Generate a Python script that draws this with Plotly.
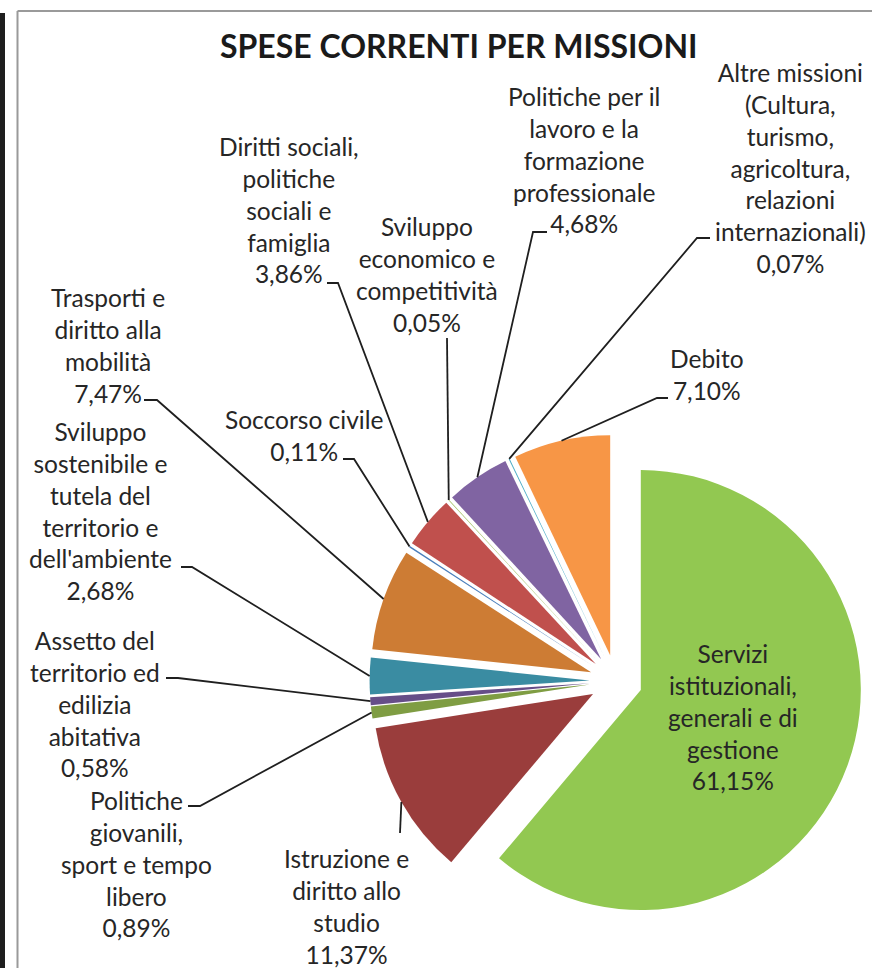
import math
import plotly.graph_objects as go

W, H = 872, 968

categories = [
    "Servizi istituzionali, generali e di gestione",
    "Istruzione e diritto allo studio",
    "Politiche giovanili, sport e tempo libero",
    "Assetto del territorio ed edilizia abitativa",
    "Sviluppo sostenibile e tutela del territorio e dell'ambiente",
    "Trasporti e diritto alla mobilità",
    "Soccorso civile",
    "Diritti sociali, politiche sociali e famiglia",
    "Sviluppo economico e competitività",
    "Politiche per il lavoro e la formazione professionale",
    "Altre missioni (Cultura, turismo, agricoltura, relazioni internazionali)",
    "Debito",
]
values = [61.15, 11.37, 0.89, 0.58, 2.68, 7.47, 0.11, 3.86, 0.05, 4.68, 0.07, 7.10]
label_lines = [
    ["Servizi", "istituzionali,", "generali e di", "gestione"],
    ["Istruzione e", "diritto allo", "studio"],
    ["Politiche", "giovanili,", "sport e tempo", "libero"],
    ["Assetto del", "territorio ed", "edilizia", "abitativa"],
    ["Sviluppo", "sostenibile e", "tutela del", "territorio e", "dell'ambiente"],
    ["Trasporti e", "diritto alla", "mobilità"],
    ["Soccorso civile"],
    ["Diritti sociali,", "politiche", "sociali e", "famiglia"],
    ["Sviluppo", "economico e", "competitività"],
    ["Politiche per il", "lavoro e la", "formazione", "professionale"],
    ["Altre missioni", "(Cultura,", "turismo,", "agricoltura,", "relazioni", "internazionali)"],
    ["Debito"],
]
colors = ["#92C851", "#9A3D3C", "#7F9D43", "#664E88", "#3A8CA2", "#CD7C34",
          "#4A7EBB", "#C0504D", "#9BBB59", "#8064A2", "#4BACC6", "#F79646"]
title_text = "SPESE CORRENTI PER MISSIONI"

# layout (pixel positions of label centres and leader anchors)
label_pos = [(733, 717), (346, 906), (136, 864), (95, 704), (100, 511), (108, 345),
             (304, 436), (289, 210), (427, 274), (584, 160), (790, 168), (707, 374)]
leader_anchor = [None, [(400, 833)], [(188, 806), (200, 806)], [(166, 678), (178, 678)],
                 [(181, 567), (192, 567)], [(144, 400), (157, 400)], [(343, 459), (354, 459)],
                 [(327, 283), (338, 283)], [(447, 338)], [(547, 232), (533, 232)],
                 [(710, 238), (697, 238)], [(668, 398), (657, 398)]]

PULL = 0.12
CX, CY, BOX = 616, 681, 246.4
dom_x = [(CX - BOX) / W, (CX + BOX) / W]
dom_y = [1 - (CY + BOX) / H, 1 - (CY - BOX) / H]

FONT = "Lato"
TXT = "#262626"

fig = go.Figure(go.Pie(
    labels=categories, values=values, sort=False, direction="clockwise", rotation=0,
    pull=PULL, marker=dict(colors=colors, line=dict(width=0)),
    textinfo="none", hoverinfo="skip", showlegend=False,
    domain=dict(x=dom_x, y=dom_y),
))

def px2paper(x, y):
    return x / W, 1 - y / H

# pie geometry derived from the domain, as plotly computes it
cx = (dom_x[0] + dom_x[1]) / 2 * W
cy = (1 - (dom_y[0] + dom_y[1]) / 2) * H
r = min((dom_x[1] - dom_x[0]) * W, (dom_y[1] - dom_y[0]) * H) / 2 / (1 + PULL)

total = sum(values)
cum = 0.0
shapes = []
annotations = []
for i, v in enumerate(values):
    a0 = cum / total * 2 * math.pi
    cum += v
    a1 = cum / total * 2 * math.pi
    am = (a0 + a1) / 2
    dx, dy = math.sin(am), -math.cos(am)
    ex = cx + dx * r * (1 + PULL)
    ey = cy + dy * r * (1 + PULL)
    pct = f"{v:.2f}".replace(".", ",") + "%"
    text = "<br>".join(label_lines[i] + [pct])
    lx, ly = px2paper(*label_pos[i])
    annotations.append(dict(x=lx, y=ly, xref="paper", yref="paper", text=text,
                            showarrow=False, xanchor="center", yanchor="middle",
                            align="center", font=dict(family=FONT, size=24.5, color=TXT)))
    if leader_anchor[i]:
        pts = leader_anchor[i] + [(ex, ey)]
        path = ""
        for k, (x, y) in enumerate(pts):
            px_, py_ = px2paper(x, y)
            path += ("M" if k == 0 else " L") + f"{px_:.5f},{py_:.5f}"
        shapes.append(dict(type="path", path=path, xref="paper", yref="paper",
                           line=dict(color="#1F1F1F", width=1.8)))

# frame (left and top edges of the chart area) and dark page bar
fx, fy = px2paper(17.5, 11)
shapes.append(dict(type="line", xref="paper", yref="paper", x0=fx, x1=fx,
                   y0=0, y1=fy, line=dict(color="#9A9A9A", width=2), layer="above"))
shapes.append(dict(type="line", xref="paper", yref="paper", x0=fx, x1=1,
                   y0=fy, y1=fy, line=dict(color="#9A9A9A", width=2), layer="above"))
shapes.append(dict(type="rect", xref="paper", yref="paper", x0=0, x1=5 / W,
                   y0=0, y1=1 - 13 / H, line=dict(width=0), fillcolor="#1E1E1E",
                   layer="above"))

tx, ty = px2paper(459, 45)
annotations.append(dict(x=tx, y=ty, xref="paper", yref="paper",
                        text=f"<b>{title_text}</b>", showarrow=False,
                        xanchor="center", yanchor="middle",
                        font=dict(family=FONT, size=32, color="#1A1A1A")))

fig.update_layout(width=W, height=H, margin=dict(l=0, r=0, t=0, b=0),
                  paper_bgcolor="white", plot_bgcolor="white",
                  shapes=shapes, annotations=annotations)

fig.write_html("out.html", config={"displayModeBar": False},
               post_script=("document.documentElement.style.overflow='hidden';"
                            "document.body.style.margin='0px';"
                            "document.body.style.overflow='hidden';"))
